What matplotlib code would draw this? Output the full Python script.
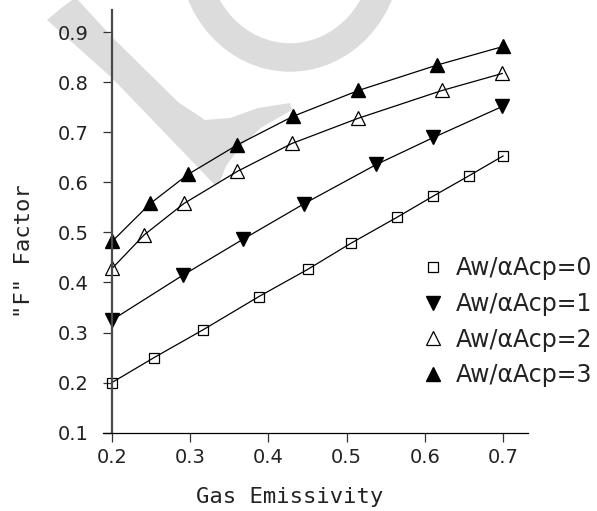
import numpy as np
import matplotlib
matplotlib.use("Agg")
import matplotlib.pyplot as plt
import matplotlib.transforms as mtransforms
from matplotlib.patches import Polygon, Ellipse
from matplotlib.lines import Line2D
from matplotlib.ticker import FormatStrFormatter

# values
x_aw0 = [0.200, 0.254, 0.316, 0.388, 0.450, 0.505, 0.564, 0.611, 0.656, 0.700]
y_aw0 = [0.200, 0.250, 0.305, 0.372, 0.426, 0.478, 0.530, 0.573, 0.613, 0.653]

x_aw1 = [0.200, 0.291, 0.367, 0.445, 0.538, 0.611, 0.699]
y_aw1 = [0.325, 0.415, 0.486, 0.557, 0.636, 0.690, 0.752]

x_aw2 = [0.200, 0.241, 0.292, 0.360, 0.430, 0.514, 0.622, 0.699]
y_aw2 = [0.428, 0.495, 0.558, 0.622, 0.678, 0.728, 0.784, 0.818]

x_aw3 = [0.200, 0.249, 0.297, 0.360, 0.431, 0.515, 0.616, 0.700]
y_aw3 = [0.482, 0.558, 0.616, 0.675, 0.732, 0.784, 0.835, 0.872]

labels = ["Aw/αAcp=0", "Aw/αAcp=1", "Aw/αAcp=2", "Aw/αAcp=3"]
xticks = [0.2, 0.3, 0.4, 0.5, 0.6, 0.7]
yticks = [0.1, 0.2, 0.3, 0.4, 0.5, 0.6, 0.7, 0.8, 0.9]

W, H = 597, 511
fig = plt.figure(figsize=(W / 100, H / 100), dpi=100)
fig.patch.set_facecolor("white")

# pixel coords (origin top-left) for the faint watermark
pix = mtransforms.Affine2D().scale(1 / 100, -1 / 100).translate(0, H / 100) + fig.dpi_scale_trans
wm = "#dcdcdc"
band = Polygon([(47, 20), (60, 9), (72, 0), (78, 0), (112, 37), (178, 102),
                (205, 120), (230, 118), (258, 108), (290, 103), (292, 110),
                (262, 127), (240, 147), (226, 166), (219, 184), (214, 184),
                (112, 78)], closed=True,
               facecolor=wm, edgecolor="none", transform=pix, zorder=-5)
fig.add_artist(band)
ring = Ellipse((290, -50), 195, 215, fill=False, edgecolor=wm, linewidth=20.5,
               transform=pix, zorder=-5)
fig.add_artist(ring)

ax = fig.add_axes([103 / W, (H - 432.5) / H, 425 / W, 422.5 / H])
ax.patch.set_visible(False)

lc = "black"
ax.plot(x_aw0, y_aw0, color=lc, lw=0.9, marker="s", ms=7, mfc="none", mec=lc, mew=0.9)
ax.plot(x_aw1, y_aw1, color=lc, lw=0.9, marker="v", ms=10.5, mfc=lc, mec=lc)
ax.plot(x_aw2, y_aw2, color=lc, lw=0.9, marker="^", ms=10.5, mfc="none", mec=lc, mew=0.9)
ax.plot(x_aw3, y_aw3, color=lc, lw=0.9, marker="^", ms=10.5, mfc=lc, mec=lc)

ax.set_xlim(0.2 - 9 / 782, 0.2 + 425 / 782 - 9 / 782)
ax.set_ylim(0.1, 0.1 + 422.5 / 500)

ax.spines["top"].set_visible(False)
ax.spines["right"].set_visible(False)
ax.spines["left"].set_position(("data", 0.2))
ax.spines["left"].set_color("#4a4a4a")
ax.spines["left"].set_linewidth(1.6)
ax.spines["bottom"].set_linewidth(0.9)

ax.set_xticks(xticks)
ax.set_yticks(yticks)
ax.xaxis.set_major_formatter(FormatStrFormatter("%.1f"))
ax.yaxis.set_major_formatter(FormatStrFormatter("%.1f"))
ax.tick_params(axis="both", direction="out", length=6.5, width=0.9, color="#333333",
               labelsize=14, labelcolor="#222222")
ax.tick_params(axis="y", pad=10)
ax.tick_params(axis="x", pad=5)

mono = "DejaVu Sans Mono"
fig.text(290 / W, 1 - 497 / H, "Gas Emissivity", ha="center", va="center",
         fontsize=16, family=mono, color="#222222")
fig.text(24 / W, 1 - 251 / H, '"F" Factor', ha="center", va="center", rotation=90,
         fontsize=16, family=mono, color="#222222")

handles = [
    Line2D([], [], ls="none", marker="s", ms=6.5, mfc="none", mec=lc, mew=0.9),
    Line2D([], [], ls="none", marker="v", ms=10.5, mfc=lc, mec=lc),
    Line2D([], [], ls="none", marker="^", ms=10.5, mfc="none", mec=lc, mew=0.9),
    Line2D([], [], ls="none", marker="^", ms=10.5, mfc=lc, mec=lc),
]
leg = ax.legend(handles, labels, loc="upper left", bbox_to_anchor=(421.5, 256),
                bbox_transform=pix, frameon=False, handlelength=1.0,
                handletextpad=0.45, labelspacing=0.5, borderpad=0, borderaxespad=0,
                prop={"family": "DejaVu Sans", "size": 17})
for t in leg.get_texts():
    t.set_color("#222222")

fig.savefig("out.png", dpi=100)
